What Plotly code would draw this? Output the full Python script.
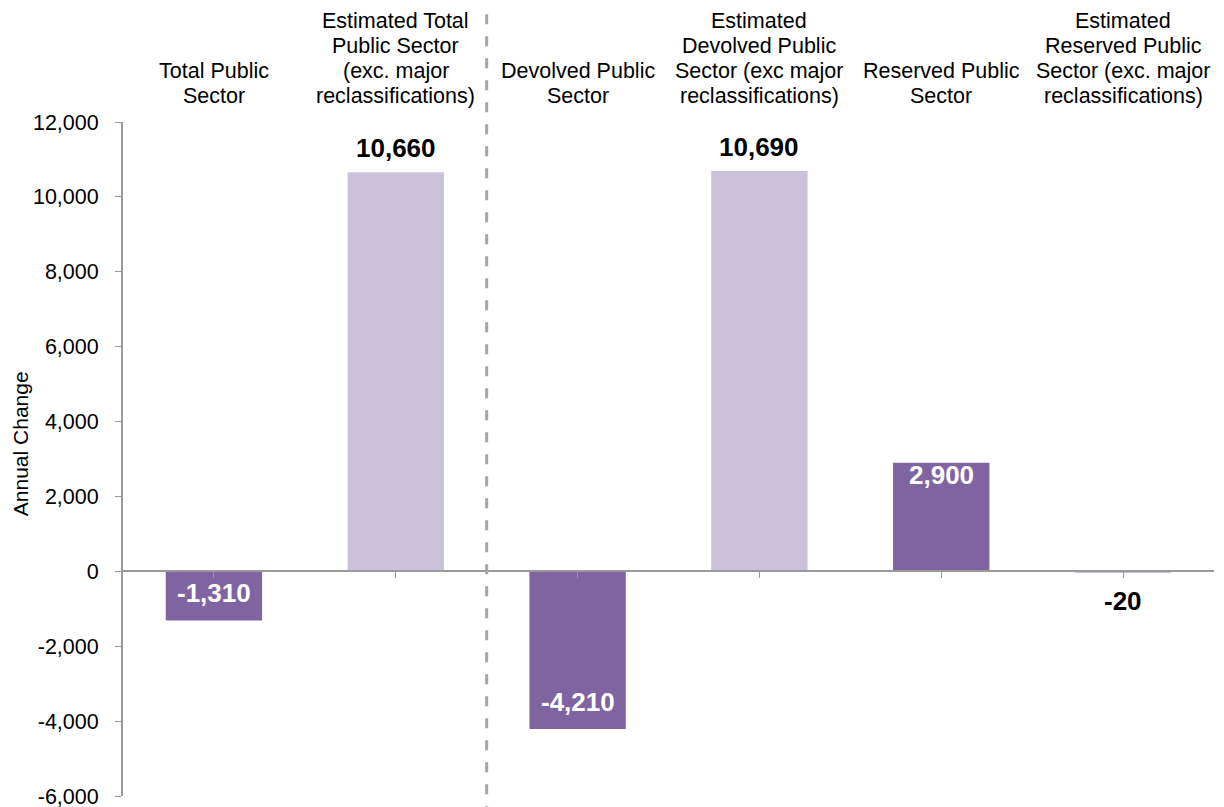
import plotly.graph_objects as go

# categories (top labels) and annual change values
categories = [
    "Total Public<br>Sector",
    "Estimated Total<br>Public Sector<br>(exc. major<br>reclassifications)",
    "Devolved Public<br>Sector",
    "Estimated<br>Devolved Public<br>Sector (exc major<br>reclassifications)",
    "Reserved Public<br>Sector",
    "Estimated<br>Reserved Public<br>Sector (exc. major<br>reclassifications)",
]
values = [-1310, 10660, -4210, 10690, 2900, -20]
is_estimate = [False, True, False, True, False, True]
y_ticks = [-6000, -4000, -2000, 0, 2000, 4000, 6000, 8000, 10000, 12000]
y_tick_labels = ["-6,000", "-4,000", "-2,000", "0", "2,000", "4,000",
                 "6,000", "8,000", "10,000", "12,000"]

DARK = "#8064A2"
LIGHT = "#CCC1DA"
AXIS = "#9A9A9A"
FONT = "Liberation Sans, Arial, sans-serif"
LINE_H = 25  # tighter line spacing than plotly's default for the header labels

x_idx = list(range(len(categories)))
colors = [LIGHT if e else DARK for e in is_estimate]

fig = go.Figure()
fig.add_trace(go.Bar(
    x=x_idx, y=values,
    marker_color=colors,
    marker_line_width=0,
    showlegend=False,
))

# value labels: actual figures in white inside the bar end, estimates in black outside
for i, (v, e) in enumerate(zip(values, is_estimate)):
    if e:
        shift = 24 if v >= 0 else -29
        color = "#000000"
    else:
        shift = -12 if v >= 0 else 27
        color = "#FFFFFF"
    fig.add_annotation(
        x=i, y=v, xref="x", yref="y",
        text=f"<b>{v:,}</b>", showarrow=False,
        yanchor="middle", yshift=shift,
        font=dict(family=FONT, size=26, color=color),
    )

# category labels above the plot area, one annotation per line
for i, c in enumerate(categories):
    lines = c.split("<br>")
    for k, line in enumerate(lines):
        fig.add_annotation(
            x=i, y=1.0, xref="x", yref="paper",
            text=line, showarrow=False, yanchor="middle",
            yshift=26 + (len(lines) - 1 - k) * LINE_H,
            font=dict(family=FONT, size=21.5, color="#000000"),
        )

# y axis title
fig.add_annotation(
    x=0, y=0.522, xref="paper", yref="paper",
    text="Annual Change", textangle=-90, showarrow=False,
    xanchor="center", yanchor="middle", xshift=-103,
    font=dict(family=FONT, size=21, color="#000000"),
)

# dashed divider between total and devolved/reserved
fig.add_shape(
    type="line", xref="x", yref="paper",
    x0=1.5, x1=1.5, y0=-0.03, y1=1.17,
    line=dict(color="#A6A6A6", width=3, dash="10px,12px"),
)

fig.update_layout(
    width=1216, height=807,
    margin=dict(l=115, r=10, t=114, b=19),
    paper_bgcolor="white", plot_bgcolor="white",
    bargap=0.47,
    font=dict(family=FONT, size=21, color="#000000"),
)

fig.update_xaxes(
    range=[-0.5, len(categories) - 0.5],
    tickvals=x_idx, showticklabels=False,
    tickson="boundaries", ticks="outside", ticklen=6, tickcolor=AXIS,
    showline=True, linecolor=AXIS, linewidth=2,
    anchor="free", position=6000 / 18000,
    showgrid=False, zeroline=False, automargin=False,
)

fig.update_yaxes(
    range=[-6000, 12000],
    tickvals=y_ticks, ticktext=y_tick_labels,
    ticks="outside", ticklen=6, tickcolor=AXIS, ticklabelstandoff=12,
    showline=True, linecolor=AXIS, linewidth=2,
    showgrid=False, zeroline=False, automargin=False,
    tickfont=dict(family=FONT, size=21.5, color="#000000"),
)

fig.write_html("out.html")
